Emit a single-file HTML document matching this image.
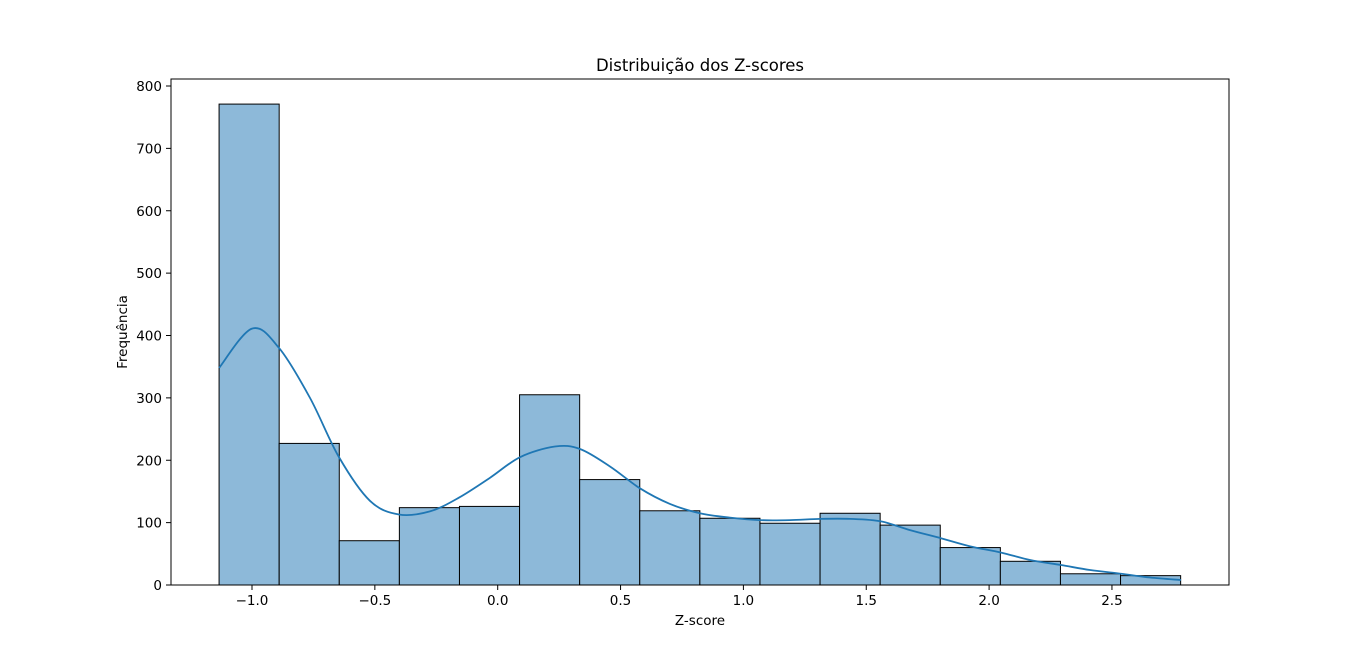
<!DOCTYPE html>
<html><head><meta charset="utf-8"><style>
body{margin:0;background:#fff;}
svg text{font-family:"DejaVu Sans","Liberation Sans",sans-serif;fill:#000;}
</style></head><body>
<svg width="1366" height="657" xmlns="http://www.w3.org/2000/svg">
<rect width="1366" height="657" fill="#fff"/>
<g id="bars"></g>
<path id="kde" fill="none" stroke="#1f77b4" stroke-width="1.8"/>
<rect x="171" y="79" width="1058" height="506" fill="none" stroke="#000" stroke-width="1"/>
<g id="xticks"></g>
<g id="yticks"></g>
<text x="700" y="71" font-size="16.5" text-anchor="middle">Distribuição dos Z-scores</text>
<text x="700" y="625" font-size="13.5" text-anchor="middle">Z-score</text>
<text x="127" y="332" font-size="13.5" text-anchor="middle" transform="rotate(-90 127 332)">Frequência</text>
</svg>
<script>
const binStart = -1.134;
const binWidth = 0.2446;
const counts = [771,227,71,124,126,305,169,119,107,99,115,96,60,38,18,15];
const kdeX = [-1.134,-1.0,-0.890,-0.764,-0.646,-0.520,-0.402,-0.276,-0.158,-0.031,0.091,0.233,0.335,0.457,0.579,0.701,0.823,0.945,1.067,1.190,1.312,1.434,1.560,1.678,1.804,1.923,2.049,2.167,2.293,2.411,2.537,2.655,2.781];
const kdeY = [348,411,380,300,205,135,113,118,140,172,205,222,218,190,155,130,115,108,104,104,106,106,102,88,75,62,52,40,32,24,18,12,8];
const xTicks = [-1.0,-0.5,0.0,0.5,1.0,1.5,2.0,2.5];
const xTickLabels = ["\u22121.0","\u22120.5","0.0","0.5","1.0","1.5","2.0","2.5"];
const yTicks = [0,100,200,300,400,500,600,700,800];

const NS="http://www.w3.org/2000/svg";
const X = v => 497.7 + v*245.7;
const Y = v => 585 - v*0.62375;
function mk(t,a,p){const e=document.createElementNS(NS,t);for(const k in a)e.setAttribute(k,a[k]);p.appendChild(e);return e;}
const bars=document.getElementById('bars');
counts.forEach((c,i)=>{
  const x0=X(binStart+i*binWidth), x1=X(binStart+(i+1)*binWidth);
  const r=mk('rect',{x:x0,y:Y(c),width:x1-x0,height:Y(0)-Y(c),fill:'#8db9d9',stroke:'#000','stroke-width':1},bars);
  
  
});
// smooth catmull-rom
const pts=kdeX.map((x,i)=>[X(x),Y(kdeY[i])]);
let d='M'+pts[0][0]+','+pts[0][1];
for(let i=0;i<pts.length-1;i++){
  const p0=pts[Math.max(0,i-1)],p1=pts[i],p2=pts[i+1],p3=pts[Math.min(pts.length-1,i+2)];
  const c1=[p1[0]+(p2[0]-p0[0])/6,p1[1]+(p2[1]-p0[1])/6];
  const c2=[p2[0]-(p3[0]-p1[0])/6,p2[1]-(p3[1]-p1[1])/6];
  d+=' C'+c1+' '+c2+' '+p2;
}
document.getElementById('kde').setAttribute('d',d);
const xg=document.getElementById('xticks');
xTicks.forEach((v,i)=>{
  const l=mk('line',{x1:X(v),x2:X(v),y1:585,y2:590,stroke:'#000'},xg);
  
  
  const t=mk('text',{x:X(v),y:605,'font-size':13.5,'text-anchor':'middle'},xg);
  t.textContent=xTickLabels[i];
  
  
});
const yg=document.getElementById('yticks');
yTicks.forEach(v=>{
  const l=mk('line',{x1:166,x2:171,y1:Y(v),y2:Y(v),stroke:'#000'},yg);
  
  
  const t=mk('text',{x:162,y:Y(v)+5,'font-size':13.5,'text-anchor':'end'},yg);
  t.textContent=v;
  
  
});
</script>
</body></html>
